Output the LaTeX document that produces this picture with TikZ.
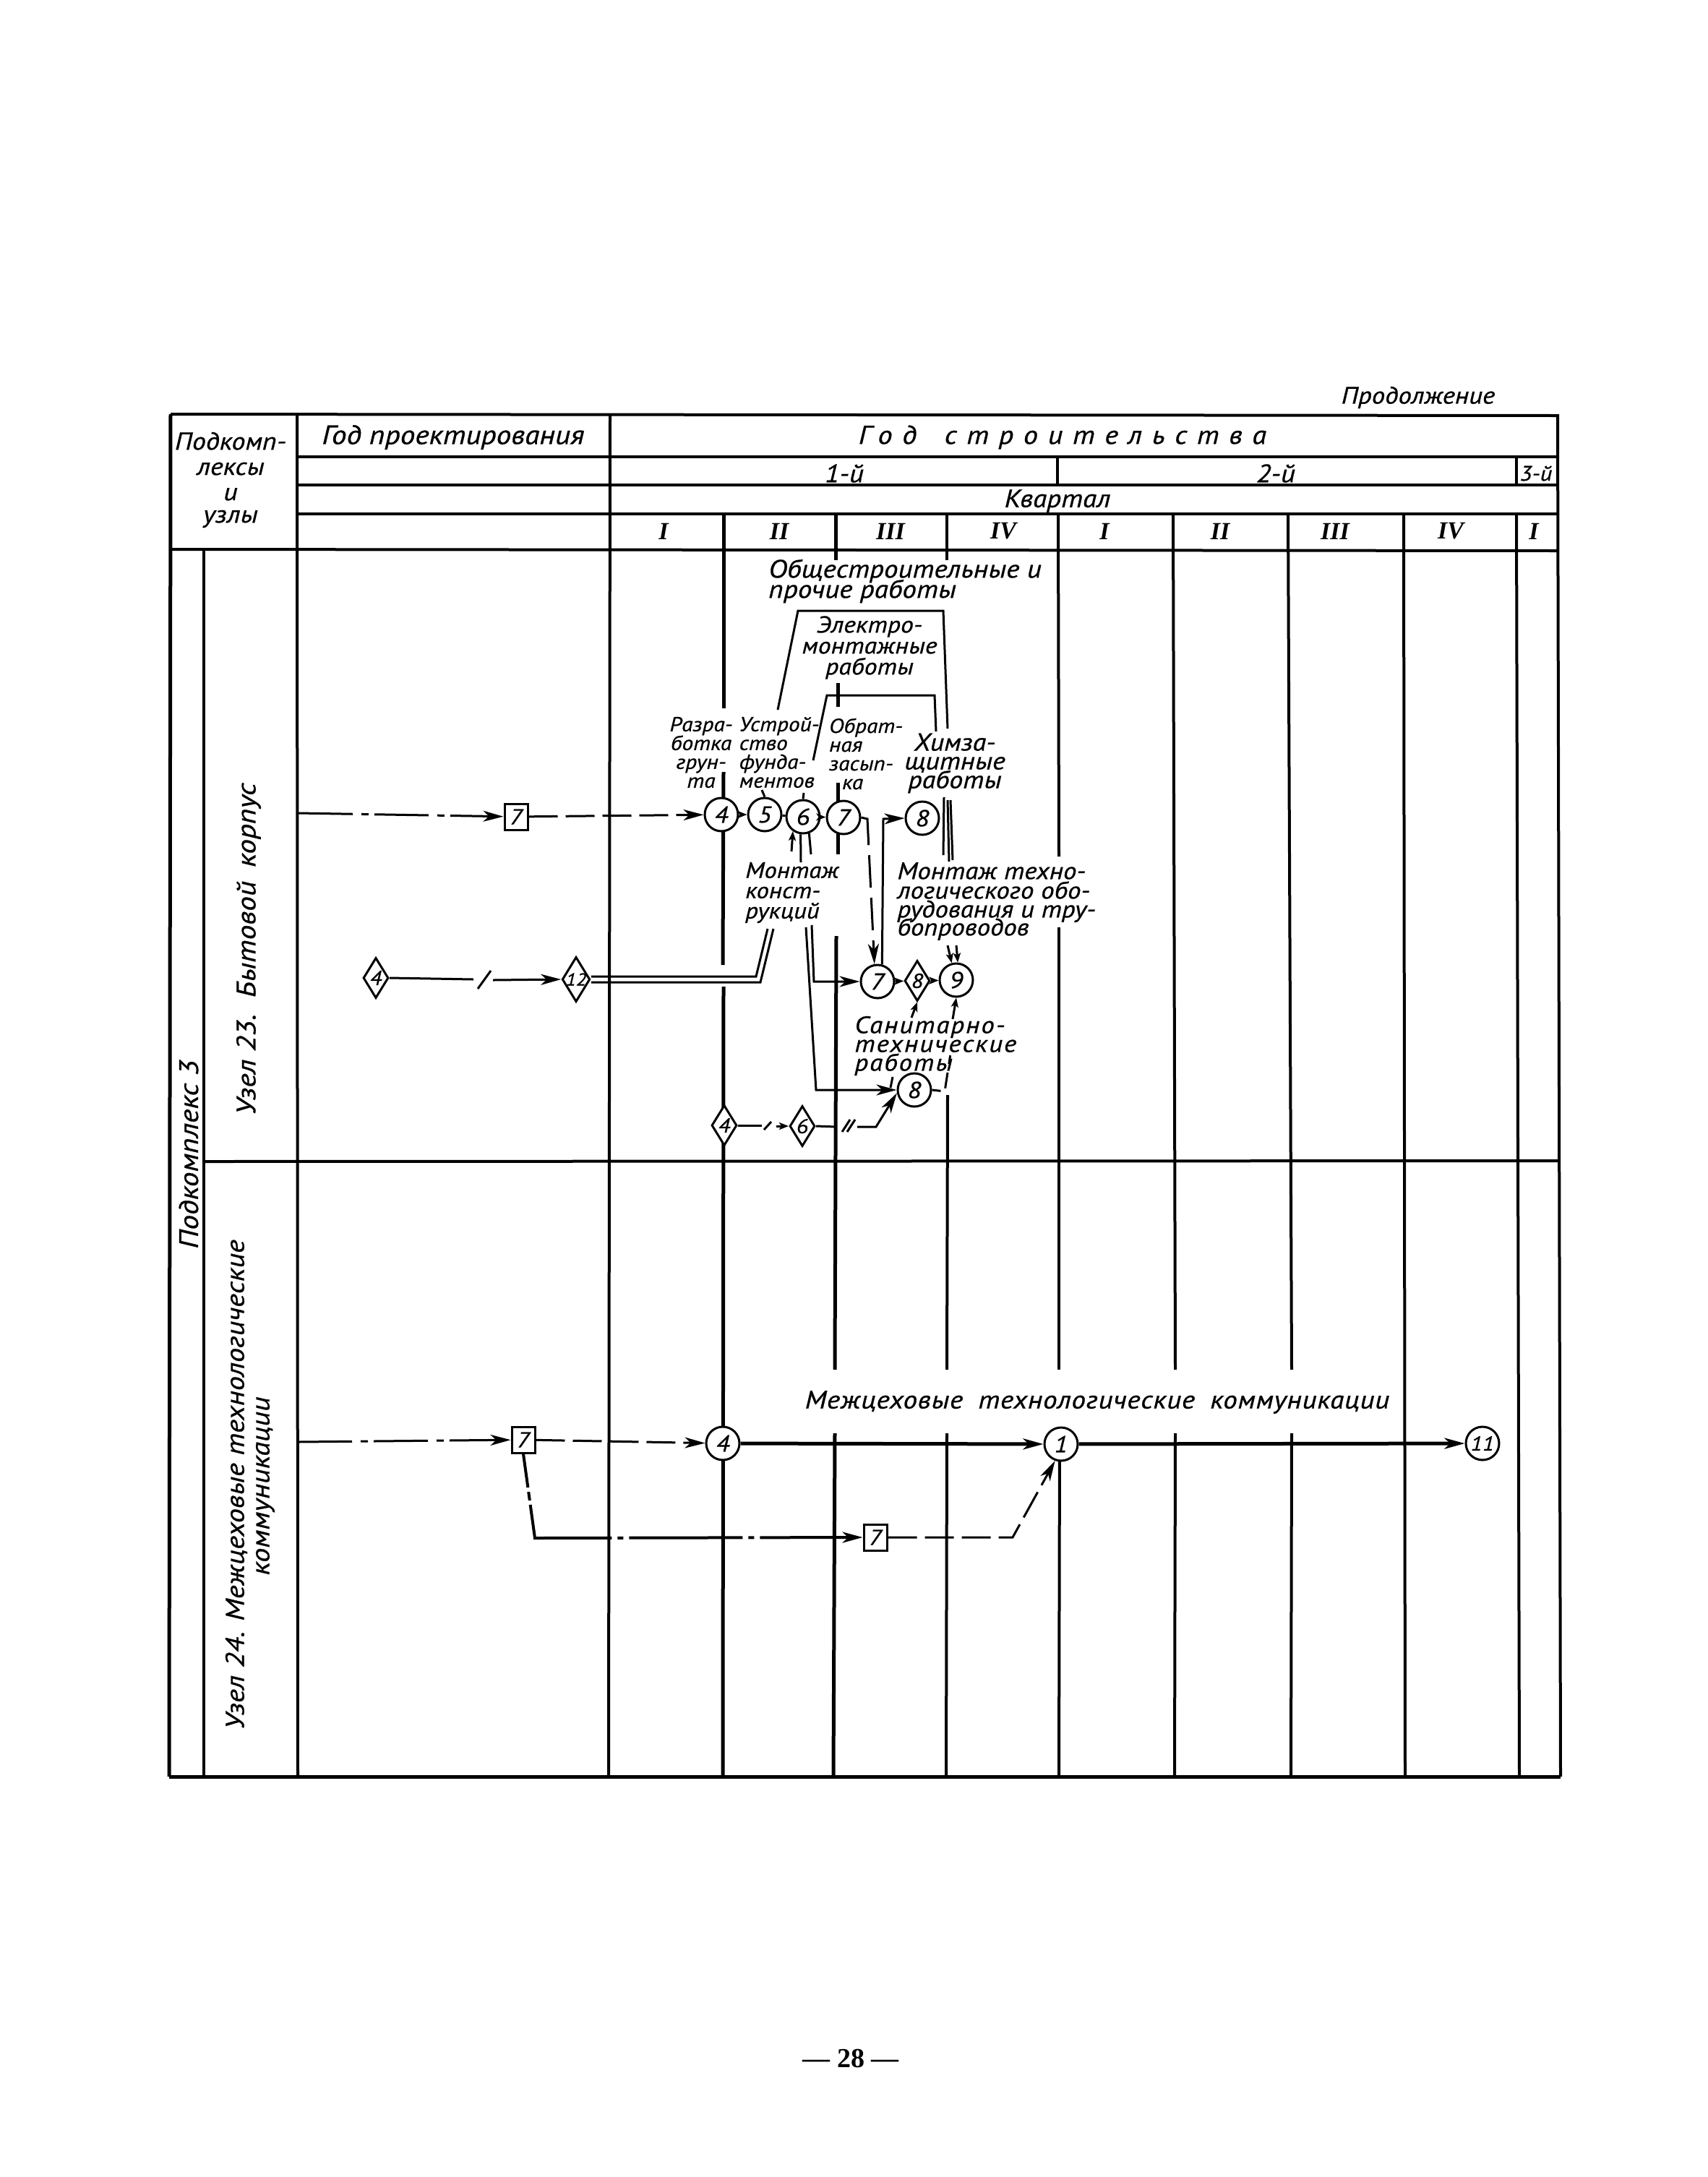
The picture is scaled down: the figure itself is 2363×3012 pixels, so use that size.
\documentclass[tikz,border=0pt]{standalone}
\usepackage{fontspec}
\setmainfont{PT Sans}[ItalicFeatures={FakeStretch=1.12,FakeBold=0.7}]
\newfontfamily\romfont{Liberation Serif}
\usetikzlibrary{positioning}
\usetikzlibrary{arrows.meta}
\usetikzlibrary{shapes.geometric}
\newcommand{\sz}[1]{\fontsize{#1}{#1}\selectfont\itshape}
\tikzset{
c/.style={
  circle,
  inner sep=0pt,
  minimum width=46pt,
  line width=3pt,
  draw=black,
  fill=white,
  font=\sz{32}
  },
d/.style={
  diamond,
  aspect=0.62,
  inner sep=0pt,
  minimum width=35pt,
  minimum height=56pt,
  line width=3pt,
  draw=black,
  fill=white,
  font=\sz{28}
  },
b/.style={
  rectangle,
  inner sep=0pt,
  minimum width=32pt,
  minimum height=36pt,
  line width=3pt,
  draw=black,
  fill=white,
  font=\sz{30}
  },
t/.style={
  inner sep=0pt,
  align=center,
  font=\sz{33}
  },
grid/.style={line width=4pt},
heavy/.style={line width=5pt},
sa/.style={>={Stealth[length=13pt,width=10pt,inset=3pt]}},
brk/.style={dash pattern=on 40pt off 11pt},
brkdot/.style={dash pattern=on 75pt off 12pt on 10pt off 8pt}
}

\begin{document}
\begin{tikzpicture}[->,>={Stealth[length=28pt,width=15pt,inset=8pt]},x=1pt,y=-1pt,line width=3pt]
    \useasboundingbox (0,0) rectangle (2363,3012);
    % table
    \draw[-,grid] (236,573) -- (2155,575);
    \foreach \ya in {632,671,711} {\draw[-,grid] (411,\ya) -- (2155,\ya);}
    \draw[-,grid] (236,760) -- (2155,762);
    \draw[-,grid] (282,1607) -- (2157,1606);
    \draw[-,heavy] (234,2458) -- (2159,2458);
    \draw[-,heavy] (236,573) -- (234,2458);
    \draw[-,grid] (2155,573) -- (2159,2458);
    \draw[-,grid] (411,573) -- (412,2458);
    \draw[-,grid] (844,573) -- (842,2458);
    \draw[-,grid] (282,760) -- (282,2458);
    \draw[-,grid] (1463,632) -- (1463,671);
    \draw[-,grid] (2098,632) -- (2098,671);
    \foreach \xa/\xb in {1942/1944,2098/2102} {
      \draw[-,grid] (\xa,711) -- (\xb,2458);
    }
    % gaps for the texts
    \foreach \xa/\ya/\xb/\yb in {1310/711/1310/775,1311/1515/1310/1895,1310/1983/1309/2458,
      1464/711/1465/1185,1465/1283/1465/1895,1466/1983/1465/2458,
      1623/711/1626/1895,1626/1983/1625/2458,1782/711/1787/1895,1787/1983/1786/2458} {
      \draw[-,grid] (\xa,\ya) -- (\xb,\yb);
    }
    \foreach \xa/\ya/\xb/\yb in {1001/711/1001/980,1001/1068/1000/1335,1001/1365/1000/2458,
      1156/711/1156/775,1159/945/1159/978,1159/1083/1159/1182,1157/1295/1155/1895,1155/1983/1153/2458} {
      \draw[-,heavy] (\xa,\ya) -- (\xb,\yb);
    }
    % header
    \node[t] (prod) at (1962,550) {Продолжение};
    \node[t,font=\sz{34}] (podk) at (319,664) {Подкомп-\\[1pt]лексы\\[1pt]и\\[-3pt]узлы};
    \node[t,font=\sz{37}] (godp) at (627,605) {Год проектирования};
    \node[t,font=\sz{36}\addfontfeature{LetterSpace=38}] (gods) at (1470,605) {Год\hspace{14pt} строительства};
    \node[t,font=\sz{35}] (yra) at (1168,655) {1-й};
    \node[t,font=\sz{35}] (yrb) at (1765,655) {2-й};
    \node[t,font=\sz{29}] (yrc) at (2125,655) {3-й};
    \node[t,font=\sz{35}] (kvart) at (1463,693) {Квартал};
    \foreach \xa/\rn/\nm in {918/I/qa,1078/II/qb,1232/III/qc,1388/IV/qd,1528/I/qe,1688/II/qf,1847/III/qg,2007/IV/qh,2122/I/qi} {
      \node[t,font=\romfont\fontsize{34}{34}\selectfont\bfseries\itshape] (\nm) at (\xa,735) {\rn};
    }
    % left column
    \node[t,rotate=90,font=\sz{37}] (podt) at (261,1597) {Подкомплекс 3};
    \node[t,rotate=90,font=\sz{37}] (uzu) at (344,1313) {Узел 23.\hspace{8pt} Бытовой\hspace{8pt} корпус};
    \node[t,rotate=90,font=\sz{36}] (uzm) at (327,2054) {Узел 24. Межцеховые технологические};
    \node[t,rotate=90,font=\sz{36}] (uzk) at (367,2056) {коммуникации};
    % work names
    \node[t,align=left,anchor=west,font=\sz{35}] (obsh) at (1062,804) {Общестроительные и\\[-7pt]прочие работы};
    \node[t,font=\sz{32}] (elek) at (1203,896) {Электро-\\[-3pt]монтажные\\[-3pt]работы};
    \node[t,font=\sz{28}] (razr) at (970,1041) {Разра-\\[-2pt]ботка\\[-2pt]грун-\\[-2pt]та};
    \node[t,font=\sz{28},align=left] (ustr) at (1078,1041) {Устрой-\\[-2pt]ство\\[-2pt]фунда-\\[-2pt]ментов};
    \node[t,font=\sz{28},align=left] (obrt) at (1198,1043) {Обрат-\\[-2pt]ная\\[-2pt]засып-\\[-2pt]\hspace{18pt}ка};
    \node[t,font=\sz{34}] (khim) at (1321,1056) {Химза-\\[-8pt]щитные\\[-8pt]работы};
    \node[t,align=left,font=\sz{31}] (mkon) at (1096,1235) {Монтаж\\[-3pt]конст-\\[-3pt]рукций};
    \node[t,align=left,anchor=west,font=\sz{33}] (mtex) at (1240,1247) {Монтаж техно-\\[-6pt]логического обо-\\[-7pt]рудования и тру-\\[-8pt]бопроводов};
    \node[t,align=left,anchor=west,font=\sz{33}\addfontfeature{LetterSpace=6}] (sant) at (1181,1447) {Санитарно-\\[-7pt]технические\\[-7pt]работы};
    \node[t,font=\sz{35}\addfontfeature{LetterSpace=2}] (mezh) at (1518,1940) {Межцеховые\hspace{10pt} технологические\hspace{10pt} коммуникации};
    \node[t,font=\romfont\fontsize{38}{38}\selectfont\bfseries] (page) at (1177,2848) {— 28 —};
    % upper row
    \node[b] (boxu) at (714,1130) {7};
    \node[c] (fouru) at (998,1127) {4};
    \node[c] (fiveu) at (1058,1127) {5};
    \node[c] (sixu) at (1111,1130) {6};
    \node[c] (sevenu) at (1167,1131) {7};
    \node[c] (eightu) at (1276,1132) {8};
    \node[d] (dfour) at (520,1353) {4};
    \node[d,font=\sz{24}] (dtwelve) at (797,1355) {12};
    \node[c] (sevenl) at (1214,1358) {7};
    \node[d] (deightl) at (1269,1357) {8};
    \node[c] (ninel) at (1323,1356) {9};
    \node[c] (eightl) at (1265,1508) {8};
    \node[d] (dfourb) at (1002,1557) {4};
    \node[d] (dsixb) at (1110,1558) {6};
    % lower row
    \node[b] (boxm) at (724,1992) {7};
    \node[c] (fourm) at (1000,1997) {4};
    \node[c] (onem) at (1468,1998) {1};
    \node[c,font=\sz{28}] (elevenm) at (2051,1997) {11};
    \node[b] (boxn) at (1211,2127) {7};
    % free ends and bends
    \coordinate (startu) at (413,1125);
    \coordinate (startm) at (412,1995);
    \coordinate (sevenr) at (1200,1133);
    \coordinate (upbend) at (1222,1133);
    \coordinate (slasha) at (661,1368);
    \coordinate (slashb) at (679,1343);
    \coordinate (lnea) at (655,1355);
    \coordinate (lneb) at (682,1356);
    \coordinate (dbla) at (1046,1351);
    \coordinate (dblb) at (1062,1285);
    \coordinate (dblc) at (1052,1359);
    \coordinate (dbld) at (1070,1285);
    \coordinate (mona) at (1123,1280);
    \coordinate (monb) at (1126,1358);
    \coordinate (monc) at (1115,1283);
    \coordinate (mond) at (1129,1508);
    \coordinate (lneg) at (1054,1557);
    \coordinate (lneh) at (1074,1558);
    \coordinate (slashc) at (1057,1563);
    \coordinate (slashd) at (1067,1552);
    \coordinate (slashe) at (1165,1566);
    \coordinate (slashf) at (1176,1549);
    \coordinate (slashg) at (1172,1566);
    \coordinate (slashh) at (1183,1549);
    \coordinate (lnei) at (1157,1559);
    \coordinate (lnej) at (1186,1559);
    \coordinate (lnek) at (1212,1559);
    \coordinate (dsha) at (1307,1510);
    \coordinate (dshb) at (1315,1458);
    \coordinate (dshc) at (1318,1410);
    \coordinate (dshd) at (1261,1408);
    \coordinate (dshe) at (1232,1505);
    \coordinate (dshf) at (1235,1490);
    \coordinate (ninea) at (1311,1308);
    \coordinate (nineb) at (1323,1308);
    \coordinate (tria) at (1306,1103);
    \coordinate (trib) at (1305,1183);
    \coordinate (tric) at (1311,1107);
    \coordinate (trid) at (1313,1192);
    \coordinate (trie) at (1315,1107);
    \coordinate (trif) at (1318,1190);
    \coordinate (brka) at (1076,982);
    \coordinate (brkb) at (1104,845);
    \coordinate (brkc) at (1305,845);
    \coordinate (brkd) at (1311,1008);
    \coordinate (brke) at (1125,1052);
    \coordinate (brkf) at (1144,962);
    \coordinate (brkg) at (1293,962);
    \coordinate (brkh) at (1295,1012);
    \coordinate (ticka) at (1054,1093);
    \coordinate (tickb) at (1112,1097);
    \coordinate (sixa) at (1095,1178);
    \coordinate (sixb) at (1108,1193);
    \coordinate (sixc) at (1122,1182);
    \coordinate (bendm) at (740,2128);
    \coordinate (bendn) at (1401,2127);
    % connectors
    \path[->,brkdot] (startu) edge (boxu);
    \path[->,brk] (boxu) edge (fouru);
    \path[->,sa]
    (fouru) edge (fiveu)
    (sixu) edge (sevenu)
    (sevenl) edge (deightl)
    (deightl) edge (ninel)
    (sixa) edge (sixu.235)
    (dshd) edge (deightl.south)
    (dshc) edge (ninel.south)
    (ninea) edge (ninel.105)
    (nineb) edge (ninel.85)
    ;
    \path[-]
    (fiveu) edge (sixu)
    (ticka) edge (fiveu.north)
    (tickb) edge (sixu.north)
    (sixb) edge (sixu.262)
    (sixc) edge (sixu.-70)
    (tria) edge (trib)
    (tric) edge (trid)
    (trie) edge (trif)
    (slasha) edge (slashb)
    (slashc) edge (slashd)
    (slashe) edge (slashf)
    (slashg) edge (slashh)
    (dshe) edge (dshf)
    ;
    \draw[-] (brka) -- (brkb) -- (brkc) -- (brkd);
    \draw[-] (brke) -- (brkf) -- (brkg) -- (brkh);
    \draw[->,dash pattern=on 45pt off 14pt] (sevenu.east) -- (sevenr) -- (sevenl.100);
    \draw[->] (sevenl.75) -- (upbend) -- (eightu.west);
    \draw[-] (dfour.east) -- (lnea);
    \draw[->] (lneb) -- (dtwelve.west);
    \draw[-] ([yshift=4pt]dtwelve.east) -- (dbla) -- (dblb);
    \draw[-] ([yshift=-4pt]dtwelve.east) -- (dblc) -- (dbld);
    \draw[->] (mona) -- (monb) -- (sevenl.west);
    \draw[->] (monc) -- (mond) -- (eightl.west);
    \draw[-] (dfourb.east) -- (lneg);
    \draw[->,sa] (lneh) -- (dsixb.west);
    \draw[-] (dsixb.east) -- (lnei);
    \draw[->] (lnej) -- (lnek) -- (eightl.190);
    \draw[-,dash pattern=on 12pt off 10pt on 22pt off 12pt] (eightl.east) -- (dsha) -- (dshb);
    \path[->,brkdot] (startm) edge (boxm);
    \path[->,brk] (boxm) edge (fourm);
    \path[->,heavy] (fourm) edge (onem);
    \path[->,heavy] (onem) edge (elevenm);
    \draw[->,line width=4pt,dash pattern=on 47pt off 6pt on 12pt off 6pt on 153pt off 8pt on 8pt off 8pt on 157pt off 8pt on 8pt off 8pt on 220pt] (boxm.south) -- (bendm) -- (boxn.west);
    \draw[->,brk] (boxn.east) -- (bendn) -- (onem.250);
\end{tikzpicture}
\end{document}
